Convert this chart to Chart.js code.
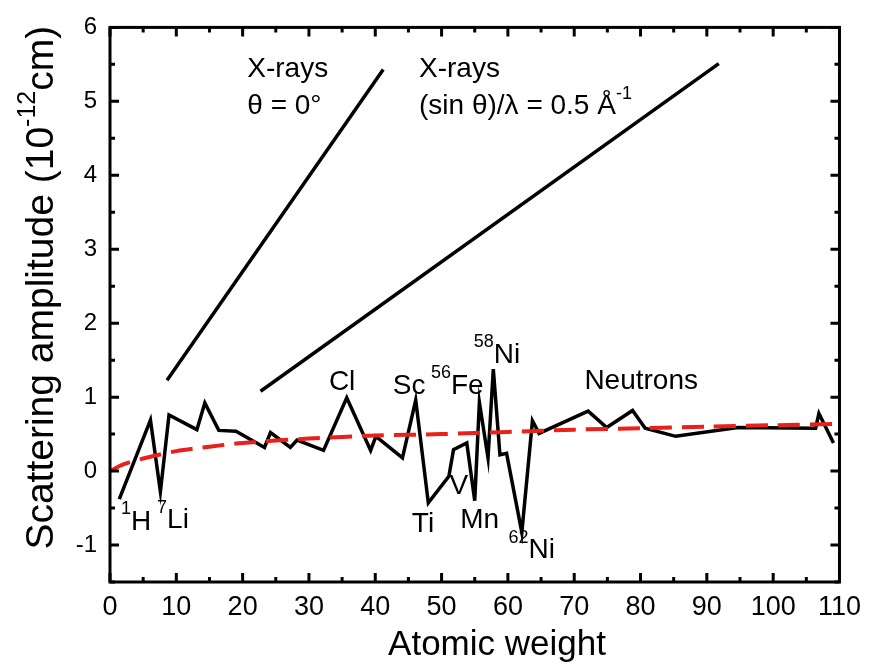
<!DOCTYPE html>
<html>
<head>
<meta charset="utf-8">
<script src="https://cdn.jsdelivr.net/npm/chart.js@4.4.0/dist/chart.umd.min.js"></script>
<style>
  html, body { margin: 0; padding: 0; background: #fff; }
  #wrap { width: 870px; height: 666px; }
</style>
</head>
<body>
<div id="wrap"><canvas id="scatChart" width="870" height="666"></canvas></div>
<script>
// neutron scattering lengths
var neutronA = [1.4, 6.1, 7.6, 8.9, 13.1, 14.3, 16.4, 19.0, 23.3, 24.2, 27.2, 28.2, 32.2, 35.7, 39.3, 40.1, 44.1, 46.1, 48.0, 51.1, 51.8, 53.8, 55.0, 55.7, 57.0, 57.8, 58.8, 59.8, 62.1, 63.7, 64.7, 72.1, 74.9, 78.8, 80.7, 85.3, 94.7, 106.4, 106.9, 109.1];
var neutronB = [-0.38, 0.69, -0.28, 0.76, 0.56, 0.92, 0.55, 0.54, 0.32, 0.52, 0.32, 0.42, 0.28, 0.99, 0.28, 0.47, 0.18, 0.96, -0.43, -0.07, 0.29, 0.38, -0.40, 0.93, 0.18, 1.38, 0.22, 0.24, -0.83, 0.68, 0.51, 0.81, 0.59, 0.82, 0.58, 0.47, 0.59, 0.58, 0.78, 0.38];

// red dashed trend
var trendA = [0, 2, 5, 10, 15, 20, 30, 40, 50, 60, 70, 80, 90, 100, 110];
var trendB = [0, 0.09, 0.17, 0.27, 0.33, 0.38, 0.44, 0.48, 0.50, 0.53, 0.56, 0.58, 0.60, 0.62, 0.64];

// x-ray lines
var xray0A = [8.6, 41.2];
var xray0B = [1.23, 5.43];
var xray05A = [22.7, 91.8];
var xray05B = [1.08, 5.51];

var xTicks = [0, 10, 20, 30, 40, 50, 60, 70, 80, 90, 100, 110];
var yTicks = [-1, 0, 1, 2, 3, 4, 5, 6];

// text labels: parts are [text, isSuperscript]
var notes = [
  { parts: [['X-rays', 0]], x: 20.7, y: 5.43, align: 'left' },
  { parts: [['\u03B8 = 0\u00B0', 0]], x: 20.7, y: 4.93, align: 'left' },
  { parts: [['X-rays', 0]], x: 46.6, y: 5.43, align: 'left' },
  { parts: [['(sin \u03B8)/\u03BB = 0.5 \u00C5', 0], ['-1', 1]], x: 46.6, y: 4.93, align: 'left' },
  { parts: [['1', 1], ['H', 0]], x: 1.65, y: -0.69, align: 'left' },
  { parts: [['7', 1], ['Li', 0]], x: 7.1, y: -0.67, align: 'left' },
  { parts: [['Cl', 0]], x: 35.0, y: 1.2, align: 'center' },
  { parts: [['Sc', 0]], x: 45.1, y: 1.15, align: 'center' },
  { parts: [['56', 1], ['Fe', 0]], x: 48.4, y: 1.15, align: 'left' },
  { parts: [['58', 1], ['Ni', 0]], x: 54.85, y: 1.57, align: 'left' },
  { parts: [['Neutrons', 0]], x: 80.1, y: 1.21, align: 'center' },
  { parts: [['Ti', 0]], x: 47.2, y: -0.72, align: 'center' },
  { parts: [['Mn', 0]], x: 55.75, y: -0.67, align: 'center' },
  { parts: [['62', 1], ['Ni', 0]], x: 60.1, y: -1.07, align: 'left' },
  { parts: [['V', 0]], x: 52.6, y: -0.2, align: 'center' }
];

var FONT = "'Liberation Sans', Arial, sans-serif";

function pts(xs, ys) {
  return xs.map(function (x, i) { return { x: x, y: ys[i] }; });
}

// draws text made of normal and superscript parts, returns nothing
function drawParts(ctx, parts, x, y, size, supSize, align, baseline) {
  var total = 0;
  parts.forEach(function (p) {
    ctx.font = (p[1] ? supSize : size) + 'px ' + FONT;
    total += ctx.measureText(p[0]).width;
  });
  var cx = align === 'center' ? x - total / 2 : x;
  ctx.textAlign = 'left';
  ctx.textBaseline = baseline;
  parts.forEach(function (p) {
    ctx.font = (p[1] ? supSize : size) + 'px ' + FONT;
    ctx.fillText(p[0], cx, p[1] ? y - size * 0.45 : y);
    cx += ctx.measureText(p[0]).width;
  });
}

var framePlugin = {
  id: 'frame',
  afterDatasetsDraw: function (chart) {
    var ctx = chart.ctx;
    var a = chart.chartArea;
    var xs = chart.scales.x, ys = chart.scales.y;
    ctx.save();
    ctx.strokeStyle = '#000';
    ctx.lineWidth = 3;
    ctx.lineCap = 'butt';
    // inward ticks, majors and minors
    ctx.beginPath();
    for (var v = 0; v <= 110; v += 5) {
      var len = v % 10 === 0 ? 9 : 5;
      var px = xs.getPixelForValue(v);
      ctx.moveTo(px, a.bottom); ctx.lineTo(px, a.bottom - len);
      ctx.moveTo(px, a.top); ctx.lineTo(px, a.top + len);
    }
    for (var w = -1.5; w <= 6; w += 0.5) {
      var l2 = Number.isInteger(w) ? 9 : 5;
      var py = ys.getPixelForValue(w);
      ctx.moveTo(a.left, py); ctx.lineTo(a.left + l2, py);
      ctx.moveTo(a.right, py); ctx.lineTo(a.right - l2, py);
    }
    ctx.stroke();
    ctx.strokeRect(a.left, a.top, a.right - a.left, a.bottom - a.top);

    // labels on the plot
    ctx.fillStyle = '#000';
    notes.forEach(function (n) {
      drawParts(ctx, n.parts, xs.getPixelForValue(n.x), ys.getPixelForValue(n.y), 28, 18, n.align, 'middle');
    });

    // x axis title
    drawParts(ctx, [['Atomic weight', 0]], 497, 655, 35, 22, 'center', 'alphabetic');

    // y axis title with superscript
    ctx.translate(53, (a.top + a.bottom) / 2 - 17);
    ctx.rotate(-Math.PI / 2);
    drawParts(ctx, [['Scattering amplitude (10', 0], ['-12', 1], ['cm)', 0]], 0, 0, 39, 25, 'center', 'alphabetic');
    ctx.restore();
  }
};

var ctx = document.getElementById('scatChart').getContext('2d');
var myChart = new Chart(ctx, {
  type: 'line',
  data: {
    datasets: [
      {
        label: 'trend',
        data: pts(trendA, trendB),
        borderColor: '#e8211d',
        borderWidth: 4,
        borderDash: [22, 10],
        pointRadius: 0,
        tension: 0.3,
        fill: false
      },
      {
        label: 'Neutrons',
        data: pts(neutronA, neutronB),
        borderColor: '#000',
        borderWidth: 3.5,
        pointRadius: 0,
        tension: 0,
        fill: false
      },
      {
        label: 'X-rays 0',
        data: pts(xray0A, xray0B),
        borderColor: '#000',
        borderWidth: 3.5,
        pointRadius: 0,
        fill: false
      },
      {
        label: 'X-rays 0.5',
        data: pts(xray05A, xray05B),
        borderColor: '#000',
        borderWidth: 3.5,
        pointRadius: 0,
        fill: false
      }
    ]
  },
  options: {
    responsive: false,
    animation: false,
    layout: { padding: { top: 20, right: 28, left: 0, bottom: 0 } },
    plugins: {
      legend: { display: false },
      tooltip: { enabled: false }
    },
    scales: {
      x: {
        type: 'linear',
        min: 0,
        max: 110,
        afterBuildTicks: function (scale) {
          scale.ticks = xTicks.map(function (v) { return { value: v }; });
        },
        afterFit: function (scale) { scale.height = 84; },
        grid: { display: false, drawTicks: false },
        border: { display: false },
        ticks: {
          padding: 9,
          maxRotation: 0,
          color: '#000',
          font: { family: FONT, size: 27 }
        }
      },
      y: {
        type: 'linear',
        min: -1.5,
        max: 6,
        afterBuildTicks: function (scale) {
          scale.ticks = yTicks.map(function (v) { return { value: v }; });
        },
        afterFit: function (scale) { scale.width = 110; },
        grid: { display: false, drawTicks: false },
        border: { display: false },
        ticks: {
          padding: 13,
          color: '#000',
          font: { family: FONT, size: 24 }
        }
      }
    }
  },
  plugins: [framePlugin]
});
</script>
</body>
</html>
